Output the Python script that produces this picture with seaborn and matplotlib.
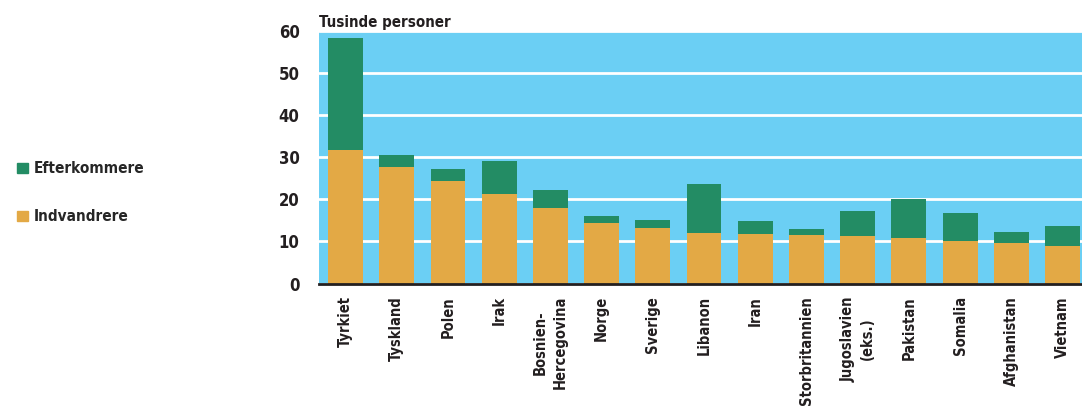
#!/usr/bin/env python3

import matplotlib

matplotlib.use("Agg")
import matplotlib.pyplot as plt
import matplotlib.patches as mpatches
import pandas
import seaborn as sns

# Data (thousand persons)
countries = [
    "Tyrkiet",
    "Tyskland",
    "Polen",
    "Irak",
    "Bosnien-\nHercegovina",
    "Norge",
    "Sverige",
    "Libanon",
    "Iran",
    "Storbritannien",
    "Jugoslavien\n(eks.)",
    "Pakistan",
    "Somalia",
    "Afghanistan",
    "Vietnam",
]
indvandrere = [31.7, 27.7, 24.4, 21.3, 17.9, 14.4, 13.2, 12.0, 11.7, 11.5, 11.3, 10.8, 10.1, 9.6, 8.9]
efterkommere = [26.7, 2.8, 2.8, 7.8, 4.3, 1.6, 1.9, 11.6, 3.1, 1.4, 5.9, 9.3, 6.6, 2.6, 4.7]
yticks = [0, 10, 20, 30, 40, 50, 60]

GREEN = "#238c64"
YELLOW = "#e3a945"
SKY = "#6bcff4"
TEXT = "#231f20"


def main():
    df = pandas.DataFrame(
        {"land": countries, "indvandrere": indvandrere, "efterkommere": efterkommere}
    )
    df["total"] = df.indvandrere + df.efterkommere

    sns.set_style("white")
    plt.rcParams["font.family"] = ["Liberation Sans Narrow", "DejaVu Sans"]
    plt.rcParams["font.stretch"] = "condensed"
    plt.rcParams["font.weight"] = "bold"

    fig = plt.figure(figsize=(10.82, 4.07), dpi=100)
    ax = fig.add_axes([0.2948, 0.3034, 0.7052, 0.6196])
    ax.set_facecolor(SKY)

    sns.barplot(data=df, x="land", y="total", color=GREEN, width=0.68,
                saturation=1, linewidth=0, edgecolor="none", ax=ax, zorder=3)
    sns.barplot(data=df, x="land", y="indvandrere", color=YELLOW, width=0.68,
                saturation=1, linewidth=0, edgecolor="none", ax=ax, zorder=3)

    ax.set_ylim(0, 60)
    ax.set_xlim(-0.52, 14.38)
    ax.set_yticks(yticks)
    ax.set_yticklabels([str(t) for t in yticks], fontsize=12, fontweight="bold", color=TEXT)
    ax.yaxis.grid(True, color="white", linewidth=2, zorder=1)
    ax.set_axisbelow(True)
    ax.tick_params(axis="y", length=0, pad=14)
    ax.tick_params(axis="x", length=0, pad=9)
    ax.set_xticks(range(len(countries)))
    ax.set_xticklabels(countries, rotation=90, fontsize=10.5, fontweight="bold",
                       color=TEXT, va="top", ha="center", multialignment="center",
                       linespacing=1.4)
    ax.set_xlabel("")
    ax.set_ylabel("")
    for side in ["top", "left", "right"]:
        ax.spines[side].set_visible(False)
    ax.spines["bottom"].set_color(TEXT)
    ax.spines["bottom"].set_linewidth(2)
    ax.spines["bottom"].set_zorder(5)

    fig.text(0.2948, 0.945, "Tusinde personer", fontsize=10.8, fontweight="bold",
             color=TEXT, ha="left", va="center")

    handles = [
        mpatches.Patch(color=GREEN, label="Efterkommere"),
        mpatches.Patch(color=YELLOW, label="Indvandrere"),
    ]
    fig.legend(handles=handles, loc="upper left", bbox_to_anchor=(0.003, 0.637),
               frameon=False, handlelength=0.7, handleheight=0.7,
               handletextpad=0.4, labelspacing=2.15, prop={"weight": "bold", "size": 11})

    fig.savefig("out.png", dpi=100)
    plt.clf()


if __name__ == "__main__":
    main()
